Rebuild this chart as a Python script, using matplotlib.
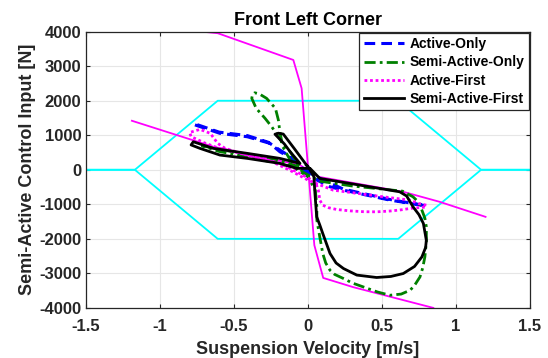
import numpy as np
import matplotlib.pyplot as plt

plt.rcParams["font.family"] = ["Liberation Sans", "DejaVu Sans"]
plt.rcParams["font.weight"] = "bold"
plt.rcParams["axes.unicode_minus"] = False

# actuator limit envelope
env_v = [-1.5, -1.17, -0.61, 0.61, 1.17, 1.5]
env_upper = [0, 0, 2000, 2000, 0, 0]
env_lower = [0, 0, -2000, -2000, 0, 0]

# passive damper bounds
damp_lo_v = [-1.19, -0.887, -0.64, -0.054, 0.07, 0.644, 0.89, 1.20]
damp_lo_f = [1420, 1006, 669, 136, -203, -638, -928, -1363]
damp_hi_v = [-0.90, -0.61, -0.099, -0.043, 0.043, 0.103, 0.306, 0.847]
damp_hi_f = [4080, 3956, 3181, 2360, -2184, -3132, -3400, -4000]

# Active-Only
ao_v = [-0.764, -0.595, -0.41, -0.257, -0.19, -0.088, 0.014, 0.149, 0.239, 0.554, 0.80,
        0.554, 0.239, 0.03, -0.10, -0.20, -0.27, -0.41, -0.60, -0.764]
ao_f = [1300, 1055, 957, 765, 522, 281, -194, -493, -589, -879, -1044,
        -860, -560, -150, 330, 600, 800, 990, 1090, 1330]

# Semi-Active-Only
sao_v = [-0.72, -0.60, -0.41, -0.19, -0.10, -0.05, -0.12, -0.17, -0.20, -0.245, -0.29, -0.35,
         -0.38, -0.375, -0.36, -0.33, -0.28, -0.22, -0.20, -0.19, -0.17, -0.12, -0.03, 0.08,
         0.30, 0.64, 0.71, 0.75, 0.77, 0.79, 0.80, 0.80, 0.79, 0.775, 0.757, 0.72, 0.69, 0.63,
         0.554, 0.47, 0.374, 0.30, 0.24, 0.18, 0.149, 0.12, 0.10, 0.08, 0.06, 0.06, 0.05, 0.0,
         -0.10, -0.19, -0.41, -0.60, -0.72]
sao_f = [700, 590, 450, 260, 140, 60, 520, 760, 957, 1247, 1490, 1780,
         2070, 2170, 2230, 2200, 2070, 1780, 1440, 1100, 667, 280, -80, -330,
         -470, -620, -783, -950, -1170, -1400, -1653, -2100, -2523, -2850, -3103, -3350, -3490, -3600,
         -3634, -3540, -3393, -3280, -3150, -3030, -2910, -2700, -2425, -1950, -1460, -1073, -600, -200,
         80, 170, 380, 530, 700]

# Active-First
af_v = [0.80, 0.745, 0.69, 0.51, 0.17, 0.0, -0.12, -0.25, -0.41, -0.56, -0.61, -0.66, -0.73,
        -0.80, -0.79, -0.70, -0.60, -0.41, -0.19, -0.076, 0.05, 0.07, 0.08, 0.10, 0.14, 0.194,
        0.284, 0.38, 0.464, 0.554, 0.63, 0.69, 0.75, 0.80]
af_f = [-1025, -975, -880, -783, -590, -300, -20, 250, 420, 620, 765, 1055, 1170,
        1080, 960, 780, 620, 430, 190, -60, -350, -590, -880, -1025, -1100, -1150,
        -1190, -1215, -1218, -1195, -1160, -1120, -1095, -1080]

# Semi-Active-First
saf_v = [-0.01, -0.09, -0.167, -0.20, -0.223, -0.16, -0.12, -0.054, -0.19, -0.41, -0.64,
         -0.775, -0.79, -0.73, -0.595, -0.41, -0.19, -0.076, 0.014, 0.08, 0.62, 0.667, 0.71,
         0.75, 0.78, 0.79, 0.80, 0.795, 0.77, 0.72, 0.644, 0.56, 0.464, 0.33, 0.24, 0.19, 0.149,
         0.10, 0.08, 0.059, 0.047, 0.04, 0.0, -0.01]
saf_f = [136, 600, 1035, 1060, 1030, 750, 520, 185, 330, 475, 620,
         812, 720, 620, 426, 330, 185, 40, 40, -250, -638, -760, -1073,
         -1300, -1555, -1800, -2040, -2250, -2523, -2800, -3005, -3090, -3120, -3050, -2860, -2700, -2425,
         -1845, -1600, -1363, -685, -200, 100, 136]

fig, ax = plt.subplots(figsize=(5.48, 3.58), dpi=100)
fig.subplots_adjust(left=0.157, right=0.967, bottom=0.14, top=0.9115)

ax.plot(env_v, env_upper, color="cyan", lw=1.3)
ax.plot(env_v, env_lower, color="cyan", lw=1.3)
ax.plot(damp_lo_v, damp_lo_f, color="magenta", lw=1.3)
ax.plot(damp_hi_v, damp_hi_f, color="magenta", lw=1.3)

ax.plot(ao_v, ao_f, color="blue", ls=(0, (3.5, 2)), lw=2.2, label="Active-Only")
ax.plot(sao_v, sao_f, color=(0, 0.5, 0), ls=(0, (4, 1.5, 1, 1.5)), lw=2.0,
        label="Semi-Active-Only")
ax.plot(af_v, af_f, color="magenta", ls=(0, (1, 1)), lw=2.0, label="Active-First")
ax.plot(saf_v, saf_f, color="black", lw=2.0, label="Semi-Active-First")

ax.set_xlim(-1.5, 1.5)
ax.set_ylim(-4000, 4000)
ax.set_xticks(np.arange(-1.5, 1.51, 0.5))
ax.set_xticklabels(["-1.5", "-1", "-0.5", "0", "0.5", "1", "1.5"])
ax.set_yticks(np.arange(-4000, 4001, 1000))
ax.tick_params(direction="in", top=True, right=True, labelsize=12, length=3, width=0.8,
               colors="#262626")
ax.tick_params(axis="x", pad=8)
ax.grid(True, color="#e6e6e6", lw=0.8)
ax.set_axisbelow(True)
for s in ax.spines.values():
    s.set_color("#262626")
    s.set_linewidth(0.9)

ax.set_xlabel("Suspension Velocity [m/s]", fontsize=13, fontweight="bold", labelpad=5,
              color="#262626")
ax.set_ylabel("Semi-Active Control Input [N]", fontsize=13, fontweight="bold", labelpad=2,
              color="#262626")
ax.set_title("Front Left Corner", fontsize=13, fontweight="bold", pad=5)

leg = ax.legend(loc="upper right", fontsize=10, handlelength=2.9, borderaxespad=0.1,
                labelspacing=0.3, handletextpad=0.4, borderpad=0.3, fancybox=False,
                framealpha=1)
leg.get_frame().set_edgecolor("#262626")
leg.get_frame().set_linewidth(0.9)

plt.savefig("out.png", dpi=100)
